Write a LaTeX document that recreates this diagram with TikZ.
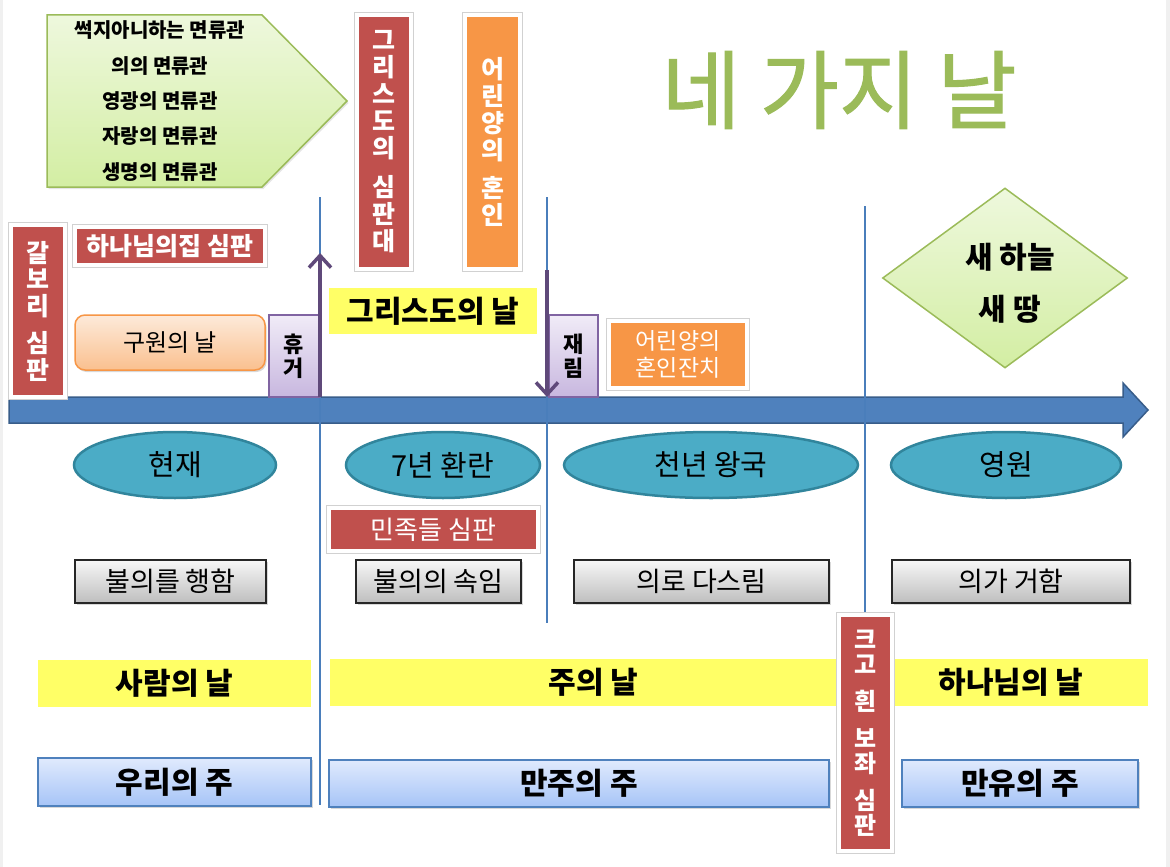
\documentclass[tikz,border=0pt]{standalone}
\usepackage{fontspec}
\setmainfont{Noto Sans CJK KR}
\newfontfamily\titlefont[FakeBold=1.2]{Noto Sans CJK KR}
\usetikzlibrary{shapes.geometric,shadows,arrows.meta}
\definecolor{cred}{HTML}{C0504D}
\definecolor{corange}{HTML}{F79646}
\definecolor{cteal}{HTML}{4BACC6}
\definecolor{ctealdk}{HTML}{31859C}
\definecolor{cblue}{HTML}{4F81BD}
\definecolor{cbluedk}{HTML}{385D8A}
\definecolor{cline}{HTML}{4A7EBB}
\definecolor{cpurple}{HTML}{8064A2}
\definecolor{cpurpledk}{HTML}{5F497A}
\definecolor{cgreen}{HTML}{9BBB59}
\definecolor{cyellow}{HTML}{FFFF66}
\definecolor{ptop}{HTML}{F0EBF7}
\definecolor{pbot}{HTML}{C8B7DF}
\definecolor{otop}{HTML}{FDEADA}
\definecolor{obot}{HTML}{FAC08F}
\definecolor{gtop}{HTML}{F7F7F7}
\definecolor{gbot}{HTML}{BEBEBE}
\definecolor{btop}{HTML}{E0EAFD}
\definecolor{bbot}{HTML}{A6C4F7}
\definecolor{ltop}{HTML}{EEF8DD}
\definecolor{lbot}{HTML}{D3EEA3}
\newcommand\fsz[2]{\fontsize{#1}{#2}\selectfont}
\tikzset{
  shd/.style={drop shadow={opacity=0.3,shadow xshift=1.5pt,shadow yshift=-2pt}},
  redframe/.style={inner sep=0pt, fill=cred, draw=white, line width=4pt, text=white, align=center, shd,
    preaction={draw=black!18, line width=5.5pt}},
  orangeframe/.style={redframe, fill=corange},
  purplebox/.style={inner sep=0pt, draw=cpurple, line width=1.2pt, top color=ptop, bottom color=pbot, align=center},
  greybox/.style={inner sep=0pt, draw=black!85, line width=1.2pt, top color=gtop, bottom color=gbot, shd, font=\fsz{27}{27}},
  bluebox/.style={inner sep=0pt, draw=cblue, line width=1.5pt, top color=btop, bottom color=bbot, shd, font=\fsz{30}{30}\bfseries},
  ybar/.style={inner sep=0pt, fill=cyellow, font=\fsz{30}{30}\bfseries},
  ellip/.style={ellipse, inner sep=0pt, fill=cteal, draw=ctealdk, line width=2.5pt, minimum height=66pt, font=\fsz{29}{29}},
  vline/.style={cline, line width=2.5pt},
  parrow/.style={cpurpledk, line width=3.5pt, -{Straight Barb[length=12pt,width=22pt,line width=3.5pt]}},
}
\begin{document}
\begin{tikzpicture}[x=1pt,y=-1pt]
\useasboundingbox (0,0) rectangle (1170,867);
\fill[white] (0,0) rectangle (1170,867);
\fill[gray!12] (0,0) rectangle (3,867);
\fill[gray!12] (1166,0) rectangle (1170,867);

% main time arrow
\filldraw[fill=cblue, draw=cbluedk, line width=1.5pt]
  (9,397) -- (1123,397) -- (1123,383) -- (1148,410) -- (1123,437) -- (1123,423) -- (9,423) -- cycle;

% vertical division lines
\coordinate (l1t) at (320,197); \coordinate (l1b) at (320,805);
\coordinate (l2t) at (547,197); \coordinate (l2b) at (547,623);
\coordinate (l3t) at (865,206); \coordinate (l3b) at (865,615);
\draw[vline] (l1t) -- (l1b);
\draw[vline] (l2t) -- (l2b);
\draw[vline] (l3t) -- (l3b);

% crowns pentagon
\filldraw[top color=ltop, bottom color=lbot, draw=cgreen, line width=1.5pt, drop shadow={opacity=0.2,shadow xshift=1.5pt,shadow yshift=-2pt}]
  (47,15) -- (262,15) -- (347,101) -- (262,187) -- (47,187) -- cycle;
\node[align=center, font=\fsz{20}{35.3}\bfseries] (crowns) at (160,101)
  {썩지아니하는 면류관\\의의 면류관\\영광의 면류관\\자랑의 면류관\\생명의 면류관};

% title
\node[text=cgreen, font=\titlefont\fsz{86}{86}] (title) at (839,90) {네 가지 날};

% vertical red / orange boxes
\node[redframe, minimum width=54pt, minimum height=254pt, font=\fsz{25}{27}\bfseries] (bema) at (384,142)
  {그\\리\\스\\도\\의\\[12pt]심\\판\\대};
\node[orangeframe, minimum width=55pt, minimum height=254pt, font=\fsz{25}{27}\bfseries] (marriage) at (492.5,142)
  {어\\린\\양\\의\\[11pt]혼\\인};
\node[redframe, minimum width=54pt, minimum height=172pt, font=\fsz{25}{26.5}\bfseries] (calvary) at (38,311)
  {갈\\보\\리\\[11pt]심\\판};
\node[redframe, minimum width=190pt, minimum height=38pt, font=\fsz{25}{25}\bfseries] (house) at (170,246)
  {하나님의집 심판};

% salvation day
\node[inner sep=0pt, rounded corners=10pt, draw=corange, line width=1.5pt, top color=otop, bottom color=obot,
  minimum width=190pt, minimum height=55pt, font=\fsz{24}{24}, shd] (salv) at (170,342.5) {구원의 날};

% rapture / second coming
\node[purplebox, minimum width=50pt, minimum height=82pt, font=\fsz{22}{24}\bfseries] (rapture) at (294,356)
  {휴\\거};
\node[purplebox, minimum width=49pt, minimum height=82pt, font=\fsz{22}{24}\bfseries] (coming) at (573.5,356)
  {재\\림};
\coordinate (upS) at (320,397); \coordinate (upE) at (320,253);
\coordinate (dnS) at (547,270); \coordinate (dnE) at (547,397);
\draw[parrow] (upS) -- (upE);
\draw[parrow] (dnS) -- (dnE);

% day of Christ
\node[ybar, minimum width=208pt, minimum height=46pt] (christday) at (433,311) {그리스도의 날};

% marriage supper
\node[orangeframe, minimum width=138pt, minimum height=67pt, font=\fsz{23}{27}] (supper) at (678,354.5)
  {어린양의\\혼인잔치};

% new heaven new earth
\node[diamond, inner sep=0pt, draw=cgreen, line width=1.5pt, top color=ltop, bottom color=lbot,
  minimum width=245pt, minimum height=180pt] (newhe) at (1005,278) {};
\node[align=center, font=\fsz{30}{52}\bfseries] (newtxt) at (1010,283) {새 하늘\\새 땅};

% ellipses
\node[ellip, minimum width=202pt] (now) at (175,465) {현재};
\node[ellip, minimum width=194pt] (trib) at (443,465) {7년 환란};
\node[ellip, minimum width=294pt] (mill) at (711,465) {천년 왕국};
\node[ellip, minimum width=230pt] (etern) at (1006,465) {영원};

% judgment of nations
\node[redframe, minimum width=209pt, minimum height=43pt, font=\fsz{26}{26}] (nations) at (433.5,529.5) {민족들 심판};

% grey boxes
\node[greybox, minimum width=191pt, minimum height=43pt] (g1) at (170.5,581.5) {불의를 행함};
\node[greybox, minimum width=165pt, minimum height=43pt] (g2) at (438.5,581.5) {불의의 속임};
\node[greybox, minimum width=255pt, minimum height=43pt] (g3) at (701.5,581.5) {의로 다스림};
\node[greybox, minimum width=238pt, minimum height=43pt] (g4) at (1011,581.5) {의가 거함};

% yellow bars
\node[ybar, minimum width=273pt, minimum height=47pt] (y1) at (174.5,683.5) {사람의 날};
\node[ybar, minimum width=527pt, minimum height=47pt] (y2) at (593.5,682.5) {주의 날};
\node[ybar, minimum width=274pt, minimum height=47pt] (y3) at (1011,682.5) {하나님의 날};

% blue boxes
\node[bluebox, minimum width=273pt, minimum height=48pt] (b1) at (174.5,782) {우리의 주};
\node[bluebox, minimum width=500pt, minimum height=47pt] (b2) at (579,783.5) {만주의 주};
\node[bluebox, minimum width=236pt, minimum height=47pt] (b3) at (1020,783.5) {만유의 주};

% great white throne
\node[redframe, minimum width=53pt, minimum height=236pt, font=\fsz{24}{25}\bfseries] (throne) at (865.5,733)
  {크\\고\\[12pt]흰\\[12pt]보\\좌\\[12pt]심\\판};
\end{tikzpicture}
\end{document}
